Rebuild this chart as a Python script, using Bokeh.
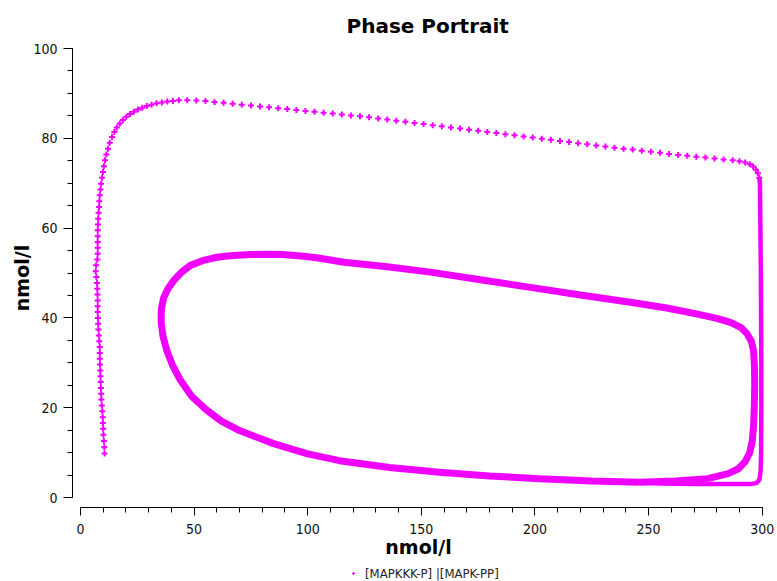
from bokeh.plotting import figure
from bokeh.layouts import column
from bokeh.models import Range1d, Legend, LegendItem, FixedTicker
from bokeh.embed import file_html
from bokeh.resources import INLINE

# ---- data ----
# transient approach ([MAPKKK-P] on x, [MAPK-PP] on y), sparse markers
trans_x = [10.6, 10.5, 10.3, 10.1, 10.0, 9.9, 9.8, 9.6, 9.4, 9.2, 9.1, 9.0, 8.9, 8.8, 8.7, 8.6,
           8.5, 8.5, 8.5, 8.3, 8.1, 7.9, 7.8, 7.7, 7.6, 7.6, 7.6, 7.5, 7.4, 7.3, 7.0, 6.7, 6.9,
           7.4, 7.6, 7.6, 7.6, 7.6, 7.6, 7.7, 7.8, 8.0, 8.2, 8.3, 8.5, 8.8, 9.1, 9.5, 9.9, 10.3,
           10.8, 11.4, 12.1, 12.9, 13.9, 14.9, 16.0, 17.3, 18.7, 20.2, 21.8, 23.5, 25.3, 27.2,
           29.2, 31.3, 33.5, 35.8, 38.2, 40.7, 43.3, 47, 51, 55, 59, 63, 67, 71, 75, 79, 83, 87,
           91, 95, 99, 103, 107, 111, 115, 119, 123, 127, 131, 135, 139, 143, 147, 151, 155, 159,
           163, 167, 171, 175, 179, 183, 187, 191, 195, 199, 203, 207, 211, 215, 219, 223, 227,
           231, 235, 239, 243, 247, 251, 255, 259, 263, 267, 271, 275, 279, 283, 287, 290, 292.5,
           294.5, 296, 297.2, 298.1, 298.7]
trans_y = [9.8, 11.2, 12.6, 14.0, 15.3, 16.6, 17.9, 19.2, 20.5, 21.8, 23.1, 24.4, 25.7, 27.0,
           28.3, 29.6, 30.9, 32.2, 33.5, 34.8, 36.1, 37.4, 38.7, 40.0, 41.3, 42.6, 43.9, 45.2,
           46.5, 47.8, 49.1, 50.4, 51.7, 53.0, 54.3, 55.6, 56.9, 58.2, 59.5, 60.8, 62.1, 63.4,
           64.7, 66.0, 67.3, 68.6, 69.9, 71.2, 72.5, 73.8, 75.1, 76.4, 77.7, 79.0, 80.3, 81.4,
           82.4, 83.3, 84.1, 84.8, 85.4, 85.9, 86.4, 86.8, 87.2, 87.5, 87.8, 88.0, 88.2, 88.3,
           88.5, 88.5, 88.4, 88.3, 88.1, 87.9, 87.7, 87.5, 87.3, 87.1, 86.9, 86.7, 86.5, 86.3,
           86.1, 85.9, 85.7, 85.5, 85.3, 85.1, 84.9, 84.7, 84.4, 84.2, 83.9, 83.7, 83.4, 83.2,
           82.9, 82.7, 82.4, 82.2, 81.9, 81.7, 81.4, 81.2, 80.9, 80.7, 80.4, 80.2, 79.9, 79.7,
           79.4, 79.2, 78.9, 78.7, 78.4, 78.2, 77.9, 77.7, 77.5, 77.2, 77.0, 76.8, 76.5, 76.3,
           76.1, 75.9, 75.7, 75.5, 75.3, 75.1, 74.9, 74.6, 74.2, 73.7, 73.0, 72.2, 71.2]

# dense drop along the right edge and the bottom
drop_x = [298.7, 299.0, 299.2, 299.4, 299.5, 299.6, 299.6, 299.5, 299.3, 298.8, 297.5, 295.0,
          285.0, 270.0, 255.0, 246.0]
drop_y = [71.2, 70.0, 60.0, 50.0, 40.0, 30.0, 20.0, 10.0, 6.0, 4.0, 3.2, 3.0, 3.0, 3.0, 3.1, 3.4]

# limit cycle (dense, repeated)
cyc_x = [246, 225, 202, 180, 158, 136, 114, 100, 85, 70, 62, 55.7, 49, 44, 40.5, 38, 36.3, 35.5,
         35.6, 36.6, 38.5, 41, 44.5, 48.4, 54, 60, 67, 75, 82, 89, 97, 104, 116, 135, 154, 176,
         198, 220, 242, 258, 271, 280, 286, 290.5, 293.3, 295.2, 296.2, 296.6, 296.7, 296.5,
         296.2, 295.6, 294.5, 292.5, 289.5, 285, 276, 262, 246]
cyc_y = [3.4, 3.7, 4.2, 4.8, 5.6, 6.7, 8.2, 9.7, 12.0, 14.9, 17.0, 19.4, 22.5, 26.1, 29.5, 32.7,
         36.0, 39.0, 42.0, 44.5, 46.5, 48.3, 50.2, 51.7, 52.8, 53.5, 53.9, 54.1, 54.2, 54.1, 53.8,
         53.4, 52.4, 51.4, 50.2, 48.5, 46.8, 45.1, 43.5, 42.2, 40.9, 39.9, 39.0, 37.9, 36.5, 34.8,
         32.7, 29.0, 25.0, 20.0, 16.0, 12.5, 10.0, 8.0, 6.4, 5.3, 4.2, 3.7, 3.4]

x_ticks = [0, 50, 100, 150, 200, 250, 300]
y_ticks = [0, 20, 40, 60, 80, 100]
series_name = "[MAPKKK-P] |[MAPK-PP]"

COLOR = "#F000FF"
TICK_FONT = "DejaVu Sans Condensed"

p = figure(width=777, height=560, output_backend="svg", toolbar_location=None,
           x_range=Range1d(-3.5, 301.0), y_range=Range1d(-2.227, 100.0),
           min_border_left=72, min_border_right=13, min_border_top=48, min_border_bottom=53,
           title="Phase Portrait")
p.title.align = "left"
p.title.offset = 274
p.title.standoff = 22
p.title.text_font = "DejaVu Sans"
p.title.text_font_size = "20px"
p.title.text_font_style = "bold"
p.title.text_color = "black"
p.outline_line_color = None
p.xgrid.visible = False
p.ygrid.visible = False

# thick limit-cycle band and right-hand drop
p.line(cyc_x, cyc_y, line_color=COLOR, line_width=7)
p.line(drop_x, drop_y, line_color=COLOR, line_width=4.5)
p.scatter(trans_x, trans_y, marker="cross", size=6, line_width=2, line_color=COLOR)

for ax, ticks, minor, bounds in ((p.xaxis[0], x_ticks, list(range(0, 301, 10)), (0, 300)),
                                 (p.yaxis[0], y_ticks, list(range(0, 101, 5)), (0, 100))):
    ax.ticker = FixedTicker(ticks=ticks, minor_ticks=minor)
    ax.bounds = bounds
    ax.axis_label = "nmol/l"
    ax.axis_label_text_font = "DejaVu Sans"
    ax.axis_label_text_font_style = "bold"
    ax.axis_label_text_font_size = "19px"
    ax.axis_label_text_color = "black"
    ax.major_label_text_font = TICK_FONT
    ax.major_label_text_font_size = "14px"
    ax.major_label_text_color = "#111111"
    ax.axis_line_color = "black"
    ax.major_tick_line_color = "black"
    ax.minor_tick_line_color = "black"
    ax.major_tick_in = 0
    ax.minor_tick_in = 0

p.xaxis.major_tick_out = 8
p.xaxis.minor_tick_out = 5
p.yaxis.major_tick_out = 9
p.yaxis.minor_tick_out = 5
p.xaxis.major_label_standoff = 8
p.yaxis.major_label_standoff = 6
p.xaxis.axis_label_standoff = -1
p.yaxis.axis_label_standoff = -3

# legend strip under the chart (its frame is aligned with the chart's frame)
lg = figure(width=777, height=21, output_backend="svg", toolbar_location=None,
            x_range=Range1d(0, 1), y_range=Range1d(0, 1),
            x_axis_location=None, y_axis_location=None, min_border=0)
lg.outline_line_color = None
lg.xgrid.visible = False
lg.ygrid.visible = False
# key glyph: first point of the series, lying outside this strip's view
key = lg.scatter(x=trans_x[:1], y=trans_y[:1], marker="cross", size=7, line_width=1.2,
                 line_color=COLOR)
legend = Legend(items=[LegendItem(label=series_name, renderers=[key])],
                location=(277, 0), orientation="horizontal",
                border_line_alpha=0, background_fill_alpha=0,
                label_text_font=TICK_FONT, label_text_font_size="13px",
                label_text_color="#222222",
                label_height=16, glyph_width=8, glyph_height=16,
                padding=0, margin=0, label_standoff=8)
lg.add_layout(legend)

page = column(p, lg, spacing=0)
open("out.html", "w").write(file_html(page, INLINE))
